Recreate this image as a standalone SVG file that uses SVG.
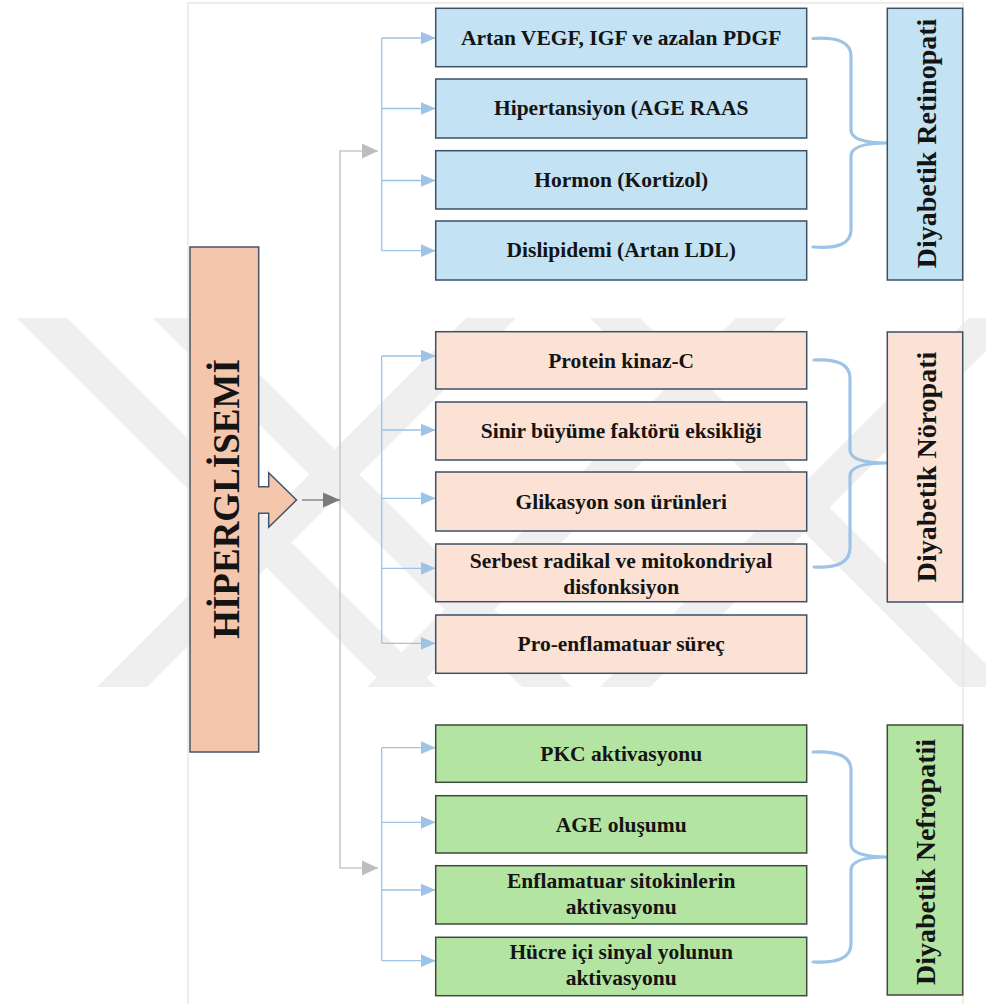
<svg xmlns="http://www.w3.org/2000/svg" width="986" height="1004" viewBox="0 0 986 1004">
<defs>
<style>
.frame{fill:none;stroke:#ebe6da;stroke-width:1.5}
.wm{fill:#efefef}
.bx{stroke:#3d5066;stroke-width:1.5}
.blue{fill:#c3e3f4}
.pink{fill:#fbe2d4}
.green{fill:#b4e4a2;stroke:#3d4a3d}
.t{font-family:"Liberation Serif","Times New Roman",serif;font-weight:bold;font-size:21.5px;text-anchor:middle;fill:#141414}
.vt{font-family:"Liberation Serif","Times New Roman",serif;font-weight:bold;font-size:28px;text-anchor:middle;fill:#141414}
.br{fill:none;stroke:#9dc3e6;stroke-width:1.3}
.brace{fill:none;stroke:#9dc3e6;stroke-width:3.2;stroke-linecap:round}
.gl{fill:none;stroke:#c9c9c9;stroke-width:1.6}
.dl{fill:none;stroke:#8a8a8a;stroke-width:1.6}
</style>
<marker id="ab" markerUnits="userSpaceOnUse" markerWidth="16" markerHeight="14" refX="15" refY="7" orient="auto"><path d="M0,0.5 L15,7 L0,13.5z" fill="#9dc3e6"/></marker>
<marker id="ag" markerUnits="userSpaceOnUse" markerWidth="17" markerHeight="16" refX="16" refY="8" orient="auto"><path d="M0,0.5 L16,8 L0,15.5z" fill="#bdbdbd"/></marker>
<marker id="ad" markerUnits="userSpaceOnUse" markerWidth="18" markerHeight="16" refX="17" refY="8" orient="auto"><path d="M0,0.5 L17,8 L0,15.5z" fill="#7a7a7a"/></marker>
</defs>
<rect width="986" height="1004" fill="#ffffff"/>
<g id="watermark">
<polygon class="wm" points="17,318 67,318 436,687 386,687"/>
<polygon class="wm" points="153,318 203,318 572,687 522,687"/>
<polygon class="wm" points="97,687 147,687 516,318 466,318"/>
<polygon class="wm" points="367,687 417,687 786,318 736,318"/>
<polygon class="wm" points="590,318 640,318 1009,687 959,687"/>
<polygon class="wm" points="600,687 650,687 1019,318 969,318"/>
</g>
<path class="frame" d="M188,1004 V3 H963 V1004"/>

<g id="connectors">
<path class="gl" d="M340,500 V151 H378" marker-end="url(#ag)"/>
<path class="gl" d="M340,500 V868 H378" marker-end="url(#ag)"/>
<path class="dl" d="M302,500 H340" marker-end="url(#ad)"/>
<path class="br" d="M381.7,38 V250.7"/>
<path class="br" d="M381.7,38 H435.7" marker-end="url(#ab)"/>
<path class="br" d="M381.7,108.5 H435.7" marker-end="url(#ab)"/>
<path class="br" d="M381.7,180.5 H435.7" marker-end="url(#ab)"/>
<path class="br" d="M381.7,250.7 H435.7" marker-end="url(#ab)"/>
<path class="br" d="M381.7,356 V643.3"/>
<path class="br" d="M381.7,356 H435.7" marker-end="url(#ab)"/>
<path class="br" d="M381.7,430 H435.7" marker-end="url(#ab)"/>
<path class="br" d="M381.7,498.3 H435.7" marker-end="url(#ab)"/>
<path class="br" d="M381.7,568.3 H435.7" marker-end="url(#ab)"/>
<path class="br" d="M381.7,643.3 H435.7" marker-end="url(#ab)"/>
<path class="br" d="M381.7,747.7 V960.7"/>
<path class="br" d="M381.7,747.7 H435.7" marker-end="url(#ab)"/>
<path class="br" d="M381.7,822.3 H435.7" marker-end="url(#ab)"/>
<path class="br" d="M381.7,890 H435.7" marker-end="url(#ab)"/>
<path class="br" d="M381.7,960.7 H435.7" marker-end="url(#ab)"/>
<path class="brace" d="M813,38.5 Q851,36 851,56 L851,130 Q851,143 888,143 Q851,143 851,156 L851,230 Q851,250 813,247"/>
<path class="brace" d="M814,360 Q850,358 850,378 L850,450 Q850,463 887,463 Q850,463 850,476 L850,548 Q850,569 814,567"/>
<path class="brace" d="M813,752 Q851,750 851,770 L851,844 Q851,857 888,857 Q851,857 851,870 L851,944 Q851,964 813,962"/>
</g>

<g id="hiperglisemi">
<path fill="#f4c6ab" stroke="#44546a" stroke-width="1.5" d="M190,247 H258.7 V486.7 H268.7 V472.7 L296.5,500 L268.7,527.3 V513.3 H258.7 V752 H190 Z"/>
<text class="vt" style="font-size:37px" transform="translate(238.5,499) rotate(-90)">HİPERGLİSEMİ</text>
</g>

<g id="r1"><rect class="bx blue" x="435.7" y="8.3" width="371" height="58.4"/><text class="t" x="621.2" y="44.7">Artan VEGF, IGF ve azalan PDGF</text></g>
<g id="r2"><rect class="bx blue" x="435.7" y="79" width="371" height="59"/><text class="t" x="621.2" y="115">Hipertansiyon (AGE RAAS</text></g>
<g id="r3"><rect class="bx blue" x="435.7" y="150.7" width="371" height="58.3"/><text class="t" x="621.2" y="186.8">Hormon (Kortizol)</text></g>
<g id="r4"><rect class="bx blue" x="435.7" y="221" width="371" height="59"/><text class="t" x="621.2" y="257">Dislipidemi (Artan LDL)</text></g>
<g id="retinopati"><rect class="bx blue" x="887.3" y="8.3" width="75.4" height="271.7"/><text class="vt" transform="translate(936,143.5) rotate(-90)">Diyabetik Retinopati</text></g>

<g id="n1"><rect class="bx pink" x="435.7" y="331.7" width="371" height="57.3"/><text class="t" x="621.2" y="367.5">Protein kinaz-C</text></g>
<g id="n2"><rect class="bx pink" x="435.7" y="402" width="371" height="58"/><text class="t" x="621.2" y="438">Sinir büyüme faktörü eksikliği</text></g>
<g id="n3"><rect class="bx pink" x="435.7" y="472" width="371" height="59"/><text class="t" x="621.2" y="508.5">Glikasyon son ürünleri</text></g>
<g id="n4"><rect class="bx pink" x="435.7" y="544" width="371" height="57.7"/><text class="t" x="621.2" y="568.3">Serbest radikal ve mitokondriyal</text><text class="t" x="621.2" y="594">disfonksiyon</text></g>
<g id="n5"><rect class="bx pink" x="435.7" y="615" width="371" height="58.3"/><text class="t" x="621.2" y="651">Pro-enflamatuar süreç</text></g>
<g id="noropati"><rect class="bx pink" x="887.3" y="332" width="75.4" height="270"/><text class="vt" transform="translate(936,467) rotate(-90)">Diyabetik Nöropati</text></g>

<g id="k1"><rect class="bx green" x="435.7" y="725" width="371" height="57.3"/><text class="t" x="621.2" y="760.5">PKC aktivasyonu</text></g>
<g id="k2"><rect class="bx green" x="435.7" y="795.7" width="371" height="57.3"/><text class="t" x="621.2" y="831.5">AGE oluşumu</text></g>
<g id="k3"><rect class="bx green" x="435.7" y="865.7" width="371" height="58.3"/><text class="t" x="621.2" y="888">Enflamatuar sitokinlerin</text><text class="t" x="621.2" y="914">aktivasyonu</text></g>
<g id="k4"><rect class="bx green" x="435.7" y="937.3" width="371" height="58.4"/><text class="t" x="621.2" y="958.5">Hücre içi sinyal yolunun</text><text class="t" x="621.2" y="984.5">aktivasyonu</text></g>
<g id="nefropati"><rect class="bx green" x="887.3" y="725" width="75.4" height="270"/><text class="vt" transform="translate(935,862) rotate(-90)">Diyabetik Nefropatii</text></g>
</svg>
